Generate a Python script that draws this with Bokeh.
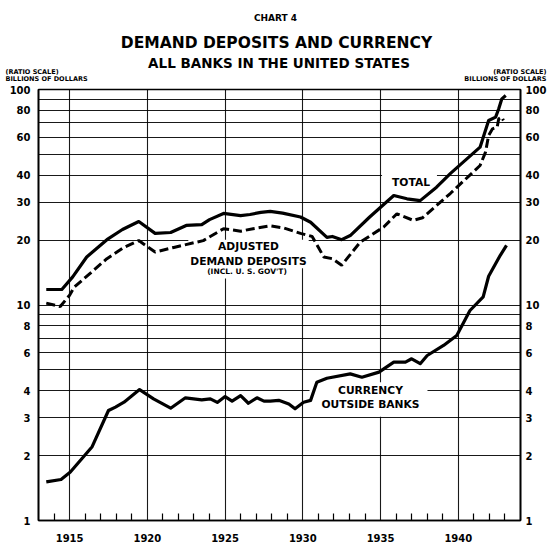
from bokeh.plotting import figure
from bokeh.layouts import column
from bokeh.models import FixedTicker, LogAxis, Label, Range1d, NumeralTickFormatter
from bokeh.core.properties import value
from bokeh.embed import file_html
from bokeh.resources import INLINE

# ---- data (billions of dollars, ratio scale) ----
total_year = [1913.5, 1914.5, 1915.2, 1916.1, 1917.4, 1918.4, 1919.45, 1920.5, 1921.5, 1922.5,
              1923.5, 1924.0, 1924.9, 1926.0, 1926.6, 1927.3, 1927.9, 1928.7, 1929.85, 1930.5,
              1931.55, 1931.9, 1932.5, 1933.05, 1934.3, 1935.85, 1936.7, 1937.55, 1938.6, 1939.5,
              1941.4, 1941.95, 1942.4, 1942.6, 1942.8, 1943.05]
total_val = [11.8, 11.8, 13.5, 16.7, 20.1, 22.4, 24.4, 21.5, 21.7, 23.4,
             23.6, 24.9, 26.6, 26.0, 26.3, 26.9, 27.2, 26.7, 25.6, 24.2,
             20.6, 20.8, 20.1, 21.0, 25.6, 32.2, 31.1, 30.5, 35.2, 40.8,
             54.0, 71.8, 74.4, 81.4, 90.5, 93.8]

dep_year = [1913.5, 1914.4, 1915.0, 1915.3, 1917.4, 1918.5, 1919.45, 1920.5, 1921.7, 1923.2,
            1923.6, 1924.9, 1926.0, 1926.8, 1927.9, 1928.75, 1929.85, 1930.6, 1931.35, 1931.9,
            1932.5, 1933.7, 1935.2, 1936.05, 1937.1, 1937.7, 1939.5, 1941.4, 1941.75, 1941.95,
            1942.2, 1942.5, 1942.6, 1942.8, 1942.9]
dep_val = [10.2, 9.84, 11.1, 12.1, 16.4, 18.5, 19.9, 17.6, 18.5, 19.6,
           19.9, 22.6, 22.0, 22.6, 23.3, 22.8, 21.5, 20.8, 16.7, 16.4,
           15.3, 19.6, 23.0, 26.5, 24.7, 25.4, 33.0, 44.4, 51.2, 61.2,
           65.7, 66.9, 73.1, 74.4, 71.8]

cur_year = [1913.5, 1914.45, 1915.05, 1916.45, 1917.5, 1917.95, 1918.5, 1919.5, 1920.4, 1921.5,
            1922.45, 1923.5, 1924.05, 1924.5, 1925.0, 1925.45, 1926.0, 1926.5, 1927.05, 1927.5,
            1927.9, 1928.45, 1929.1, 1929.5, 1930.05, 1930.5, 1930.9, 1931.55, 1933.05, 1933.8,
            1934.9, 1935.85, 1936.6, 1937.0, 1937.55, 1938.0, 1939.05, 1939.9, 1940.75, 1941.6,
            1941.95, 1942.7, 1943.1]
cur_val = [1.51, 1.55, 1.68, 2.20, 3.24, 3.36, 3.54, 4.05, 3.67, 3.32,
           3.71, 3.63, 3.67, 3.53, 3.76, 3.58, 3.80, 3.50, 3.71, 3.58,
           3.58, 3.61, 3.47, 3.30, 3.54, 3.61, 4.38, 4.57, 4.79, 4.62,
           4.88, 5.43, 5.43, 5.63, 5.34, 5.83, 6.49, 7.22, 9.43, 10.9,
           13.6, 17.0, 18.9]

y_ticks = [1, 2, 3, 4, 6, 8, 10, 20, 30, 40, 60, 80, 100]
y_grid = [2, 3, 4, 5, 6, 7, 8, 9, 10, 20, 30, 40, 50, 60, 70, 80, 90]
x_ticks = [1915, 1920, 1925, 1930, 1935, 1940]
x_minor = [1914, 1916, 1917, 1918, 1919, 1921, 1922, 1923, 1924, 1926, 1927, 1928, 1929,
           1931, 1932, 1933, 1934, 1936, 1937, 1938, 1939, 1941, 1942, 1943]

FONT = "DejaVu Sans"
W = 550
HEAD_H = 82

# ---------------- header (titles) ----------------
head = figure(width=W, height=HEAD_H, x_range=Range1d(0, W), y_range=Range1d(HEAD_H, 0),
              output_backend="svg", toolbar_location=None,
              x_axis_location=None, y_axis_location=None,
              min_border_left=0, min_border_right=0, min_border_top=0, min_border_bottom=0)
head.frame_align = False
head.outline_line_color = None
head.grid.visible = False
head.background_fill_color = "white"
head.border_fill_color = "white"

def htext(x, y, t, size, align="center"):
    head.text(x=[x], y=[y], text=[t], text_align=align, text_baseline="middle",
              text_font=value(FONT), text_font_style="bold", text_font_size=size,
              text_color="black")

htext(275, 17, "CHART 4", "9px")
htext(276, 42.5, "DEMAND DEPOSITS AND CURRENCY", "15.5px")
htext(278.5, 62, "ALL BANKS IN THE UNITED STATES", "13.5px")
htext(5, 71, "(RATIO SCALE)", "6.5px", align="left")
htext(5, 78, "BILLIONS OF DOLLARS", "6.5px", align="left")
htext(546, 71, "(RATIO SCALE)", "6.5px", align="right")
htext(546, 78, "BILLIONS OF DOLLARS", "6.5px", align="right")

# ---------------- main chart ----------------
p = figure(width=W, height=464, x_range=Range1d(1913, 1944), y_range=Range1d(1, 100),
           y_axis_type="log", output_backend="svg", toolbar_location=None,
           min_border_left=38, min_border_right=30, min_border_top=7, min_border_bottom=26)
p.frame_align = False
p.background_fill_color = "white"
p.border_fill_color = "white"
p.outline_line_color = "black"
p.outline_line_width = 1.6

# grids
p.xgrid.ticker = FixedTicker(ticks=x_ticks)
p.ygrid.ticker = FixedTicker(ticks=y_grid)
for g in (p.xgrid, p.ygrid):
    g.grid_line_color = "black"
    g.grid_line_width = 1.1
    g.grid_line_alpha = 0.9

# x axis
p.xaxis.ticker = FixedTicker(ticks=x_ticks, minor_ticks=x_minor)
p.xaxis.major_tick_in = 0
p.xaxis.major_tick_out = 0
p.xaxis.minor_tick_in = 7
p.xaxis.minor_tick_out = 0
p.xaxis.minor_tick_line_width = 1.2
p.xaxis.minor_tick_line_color = "black"
p.xaxis.axis_line_width = 1.6
p.xaxis.major_label_standoff = 13

# y axes
fmt = NumeralTickFormatter(format="0")
p.yaxis.ticker = FixedTicker(ticks=y_ticks, minor_ticks=[])
p.yaxis.formatter = fmt
p.yaxis.major_label_standoff = 8

right = LogAxis(ticker=FixedTicker(ticks=y_ticks, minor_ticks=[]), formatter=fmt,
                major_label_standoff=5)
p.add_layout(right, "right")

for ax in [p.xaxis[0], p.yaxis[0], right]:
    ax.major_label_text_font = FONT
    ax.major_label_text_font_style = "bold"
    ax.major_label_text_font_size = "10px"
    ax.major_label_text_color = "black"
    ax.axis_line_color = "black"
for ax in [p.yaxis[0], right]:
    ax.major_tick_in = 0
    ax.major_tick_out = 0
    ax.minor_tick_in = 0
    ax.minor_tick_out = 0
    ax.axis_line_width = 1.6

# series labels (screen units relative to the frame's bottom-left corner);
# their white boxes break the grid lines as in the original drawing
def lab(x, y, text, size, pad, lh=1.2):
    p.add_layout(Label(x=x, y=y, x_units="screen", y_units="screen", text=text,
                       text_align="center", text_baseline="middle", text_font=FONT,
                       text_font_style="bold", text_font_size=size, text_color="black",
                       text_line_height=lh,
                       background_fill_color="white", padding=pad, level="underlay"))

lab(371, 339, "TOTAL", "10.7px", dict(left=10, right=7, top=2, bottom=1))
lab(210, 266.5, "ADJUSTED\nDEMAND DEPOSITS", "10.7px", dict(left=2, right=2, top=0, bottom=0), lh=1.21)
lab(208.5, 248, "(INCL. U. S. GOV'T)", "7.5px", dict(left=2, right=2, top=0, bottom=3))
lab(330, 121, "CURRENCY\nOUTSIDE BANKS", "10.7px", dict(left=12, right=8, top=2, bottom=6), lh=1.05)

# data lines
p.line(total_year, total_val, line_color="black", line_width=3.2, line_join="round")
p.line(dep_year, dep_val, line_color="black", line_width=3.0, line_dash="9 4")
p.line(cur_year, cur_val, line_color="black", line_width=3.2, line_join="round")

layout = column(head, p, spacing=0)
open("out.html", "w").write(file_html(layout, INLINE))
